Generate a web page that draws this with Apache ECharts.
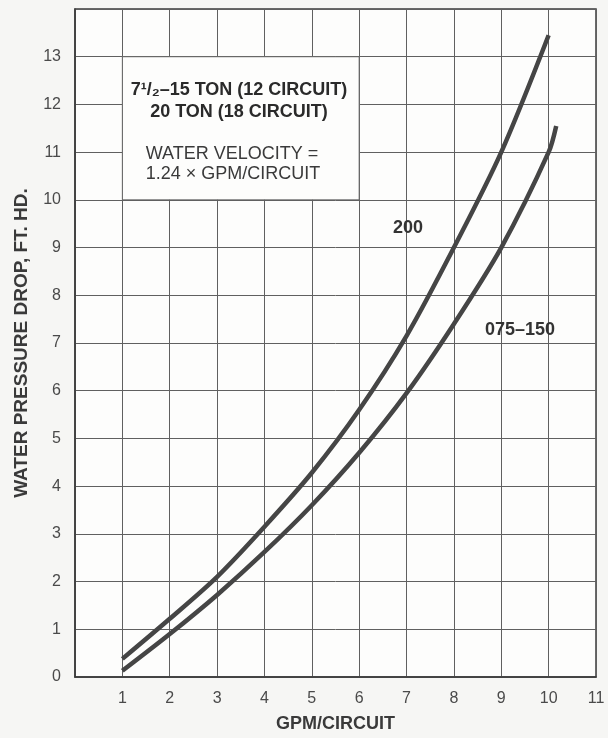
<!DOCTYPE html>
<html>
<head>
<meta charset="utf-8">
<script src="https://cdn.jsdelivr.net/npm/echarts@6/dist/echarts.min.js"></script>
<style>
html,body{margin:0;padding:0;background:#f6f6f4;}
#chart{width:608px;height:738px;}
</style>
</head>
<body>
<div id="chart"></div>
<script>
// GPM per circuit and water pressure drop (ft. hd.)
const gpm200 = [1, 2, 3, 4, 5, 6, 7, 8, 9, 10];
const drop200 = [0.38, 1.22, 2.1, 3.15, 4.28, 5.6, 7.15, 9.0, 11.0, 13.45];
const gpm075150 = [1, 2, 3, 4, 5, 6, 7, 8, 9, 10, 10.16];
const drop075150 = [0.13, 0.9, 1.72, 2.62, 3.6, 4.7, 5.95, 7.4, 9.0, 11.0, 11.55];
const xTicks = [1, 2, 3, 4, 5, 6, 7, 8, 9, 10, 11];
const yTicks = [0, 1, 2, 3, 4, 5, 6, 7, 8, 9, 10, 11, 12, 13];
const seriesNames = ['200', '075–150'];
const noteLines = ['7¹/₂–15 TON (12 CIRCUIT)', '20 TON (18 CIRCUIT)', 'WATER VELOCITY =', '1.24 × GPM/CIRCUIT'];
// note box extent in data units (gpm range, pressure range)
const noteBoxGpm = [1, 6];
const noteBoxDrop = [10, 13];

const pairs = (xs, ys) => xs.map((x, i) => [x, ys[i]]);
const font = 'Liberation Sans, Arial, sans-serif';

const chart = echarts.init(document.getElementById('chart'), null, {renderer: 'canvas'});
const txt = (s, x, y, f, fill) => ({type: 'text', x: x, y: y, z: 100, zlevel: 0,
  style: {text: s, font: f, fill: fill, align: 'center', verticalAlign: 'middle'}});
chart.setOption({
  backgroundColor: '#f6f6f4',
  animation: false,
  grid: {left: 75, right: 12, top: 9, bottom: 57, show: true, backgroundColor: '#fdfdfc', borderColor: '#3a3a3a', borderWidth: 1.5},
  xAxis: {
    type: 'value', min: 0, max: 11, interval: 1,
    name: 'GPM/CIRCUIT', nameLocation: 'middle', nameGap: 38,
    nameTextStyle: {fontFamily: font, fontSize: 18, fontWeight: 'bold', color: '#3a3a3a'},
    axisLine: {show: true, onZero: false, lineStyle: {color: '#3a3a3a', width: 1.5}},
    axisTick: {show: false},
    axisLabel: {margin: 14, fontFamily: font, fontSize: 16, color: '#4a4a4a',
      formatter: v => xTicks.includes(v) ? String(v) : ''},
    splitLine: {show: true, lineStyle: {color: '#606060', width: 1}}
  },
  yAxis: {
    type: 'value', min: 0, max: 14, interval: 1,
    name: 'WATER PRESSURE DROP, FT. HD.', nameLocation: 'middle', nameGap: 44,
    nameTextStyle: {fontFamily: font, fontSize: 19, fontWeight: 'bold', color: '#3a3a3a'},
    axisLine: {show: true, onZero: false, lineStyle: {color: '#3a3a3a', width: 1.5}},
    axisTick: {show: false},
    axisLabel: {margin: 14, fontFamily: font, fontSize: 16, color: '#4a4a4a',
      formatter: v => yTicks.includes(v) ? String(v) : ''},
    splitLine: {show: true, lineStyle: {color: '#606060', width: 1}}
  },
  series: [
    {name: seriesNames[0], type: 'line', smooth: 0.3, symbol: 'none', data: pairs(gpm200, drop200),
     lineStyle: {color: '#454545', width: 4.5},
     markArea: {silent: true,
       itemStyle: {color: '#fdfdfc', borderColor: '#606060', borderWidth: 1},
       data: [[{coord: [noteBoxGpm[0], noteBoxDrop[1]]}, {coord: [noteBoxGpm[1], noteBoxDrop[0]]}]]}},
    {name: seriesNames[1], type: 'line', smooth: 0.3, symbol: 'none', data: pairs(gpm075150, drop075150),
     lineStyle: {color: '#454545', width: 4.5}}
  ],
  graphic: [
    txt(noteLines[0], 239, 90, 'bold 18px ' + font, '#2a2a2a'),
    txt(noteLines[1], 239, 112, 'bold 18px ' + font, '#2a2a2a'),
    txt(noteLines[2], 232, 154, '18px ' + font, '#3a3a3a'),
    txt(noteLines[3], 233, 174, '18px ' + font, '#3a3a3a'),
    txt(seriesNames[0], 408, 228, 'bold 18px ' + font, '#333'),
    txt(seriesNames[1], 520, 330, 'bold 18px ' + font, '#333')
  ]
});
</script>
</body>
</html>
